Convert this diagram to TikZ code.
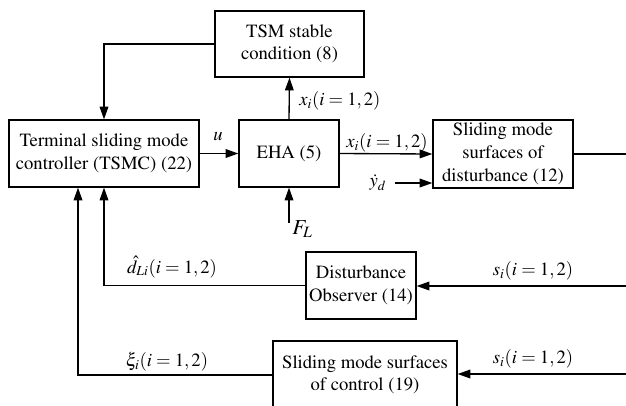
\documentclass[tikz,border=0pt]{standalone}
\usepackage{amsmath}
\usepackage[T1]{fontenc}
\usepackage{mathptmx}
\usetikzlibrary{arrows.meta,calc}

\begin{document}
\begin{tikzpicture}[x=0.75pt,y=0.75pt,yscale=-1,
  blockbox/.style={draw,line width=1pt,inner sep=0pt,align=center,font=\fontsize{14}{17}\selectfont},
  arr/.style={-{Triangle[length=9.5pt,width=6.5pt]},line width=1pt},
  lbl/.style={inner sep=0.75pt,font=\fontsize{14}{17}\selectfont}]
\useasboundingbox (0,0) rectangle (626,405);
\clip (0,0) rectangle (626,405);

%Blocks
\node[blockbox,minimum width=142.5pt,minimum height=50.25pt] (tsmc) at (104,153.5) {Terminal sliding mode\\controller (TSMC) (22)};
\node[blockbox,minimum width=75pt,minimum height=50.25pt] (eha) at (289,153.5) {EHA (5)};
\node[blockbox,minimum width=111.75pt,minimum height=49.5pt] (tsm) at (289.5,44) {TSM stable\\condition (8)};
\node[blockbox,minimum width=105pt,minimum height=51pt] (smd) at (503,154) {Sliding mode\\surfaces of\\disturbance (12)};
\node[blockbox,minimum width=82.5pt,minimum height=50.25pt] (do) at (361,285.5) {Disturbance\\Observer (14)};
\node[blockbox,minimum width=138pt,minimum height=51pt] (smc) at (365,375) {Sliding mode surfaces\\of control (19)};

%Free ends
\coordinate (rs) at (626,154);
\coordinate (yd) at (395,183);
\coordinate (fl) at (289,223);
\coordinate (so) at (626,286);
\coordinate (sc) at (626,374);

%Connectors
\draw[arr] (tsm.west) -| (tsmc.north);
\draw[arr] (tsmc.east) -- (eha.west);
\draw[arr] (eha.north) -- (tsm.south);
\draw[arr] (eha.east) -- (smd.west);
\draw[line width=1pt] (smd.east) -- (rs);
\draw[arr] (yd) -- (yd -| smd.west);
\draw[arr] (fl) -- (eha.south);
\draw[arr] (so) -- (so -| do.east);
\draw[arr] (sc) -- (sc -| smc.east);
\draw[arr] (do.west) -| (tsmc.south);
\draw[arr] (smc.west) -| ($(tsmc.south)+(-26,0)$);

% Text Node
\node[lbl] (ulbl) at (218,137) {$u$};
\node[lbl,anchor=west] (xtop) at (298,101) {$x_i(i=1,2)$};
\node[lbl] (xright) at (387,143) {$x_i(i=1,2)$};
\node[lbl] (ydlbl) at (378,183) {$\dot{y}_d$};
\node[lbl,anchor=west,font=\fontsize{16}{18}\selectfont] (fllbl) at (291,229) {$F_L$};
\node[lbl] (dlbl) at (172,267) {$\hat{d}_{Li}(i=1,2)$};
\node[lbl] (xilbl) at (167,362) {$\xi_i(i=1,2)$};
\node[lbl] (slbl1) at (533,271) {$s_i(i=1,2)$};
\node[lbl] (slbl2) at (533,359) {$s_i(i=1,2)$};

\end{tikzpicture}
\end{document}
